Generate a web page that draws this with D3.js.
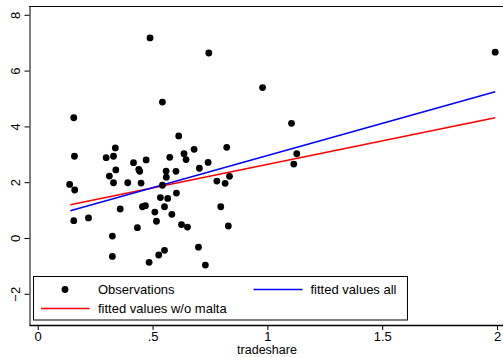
<!DOCTYPE html>
<html>
<head>
<meta charset="utf-8">
<script src="https://cdn.jsdelivr.net/npm/d3@7"></script>
<style>
    body { margin: 0; background: #fff; }
    svg { display: block; font-family: "Liberation Sans", Arial, sans-serif; }
</style>
</head>
<body>
<svg id="chart" width="503" height="357"></svg>
<script>
// observations
const tradeshare = [0.979, 0.543, 0.157, 0.614, 0.338, 0.823, 0.298, 0.330, 0.160, 0.472,
    0.575, 0.637, 0.681, 0.646, 0.417, 0.742, 0.440, 0.444, 0.340, 0.559,
    0.602, 0.704, 0.560, 0.312, 0.139, 0.161, 0.330, 0.392, 0.450, 0.543,
    0.780, 0.816, 0.835, 0.604, 0.534, 0.566, 0.359, 0.456, 0.469, 0.552,
    0.797, 0.510, 0.584, 0.157, 0.221, 0.517, 0.626, 0.652, 0.830, 0.434,
    0.325, 0.700, 0.552, 0.527, 0.325, 0.485, 0.730, 0.489, 0.745, 1.992,
    1.105, 1.128, 1.115];
const growth = [5.39, 4.87, 4.31, 3.66, 3.23, 3.25, 2.88, 2.93, 2.93, 2.80,
    2.89, 3.02, 3.18, 2.81, 2.70, 2.71, 2.46, 2.39, 2.44, 2.40,
    2.39, 2.50, 2.18, 2.22, 1.92, 1.72, 1.98, 1.98, 1.97, 1.89,
    2.04, 1.96, 2.21, 1.61, 1.45, 1.42, 1.04, 1.12, 1.16, 1.12,
    1.12, 0.93, 0.85, 0.62, 0.72, 0.60, 0.48, 0.39, 0.43, 0.37,
    0.07, -0.33, -0.44, -0.61, -0.66, -0.87, -0.97, 7.17, 6.63, 6.66,
    4.11, 3.02, 2.65];

// fitted line end points [x, y]
const fitAll = [[0.142, 0.98], [1.992, 5.24]];
const fitNoMalta = [[0.142, 1.19], [1.992, 4.31]];

const xTicks = [0, 0.5, 1, 1.5, 2];
const xTickLabels = ["0", ".5", "1", "1.5", "2"];
const yTicks = [-2, 0, 2, 4, 6, 8];

window.onload = function(e){
    drawChart();
};

function drawChart(){
    const svg = d3.select("#chart");
    const left = 29, right = 503, top = 6, bottom = 325;

    let x = d3.scaleLinear().domain([-0.038, 2.026]).range([left, right]);
    let y = d3.scaleLinear().domain([-3.118, 8.315]).range([bottom, top]);

    //frame line on top
    svg.append("line")
        .attr("x1", left).attr("x2", right)
        .attr("y1", top + 0.5).attr("y2", top + 0.5)
        .attr("stroke", "#000");

    //x axis
    let xAxis = d3.axisBottom(x)
        .tickValues(xTicks)
        .tickFormat((d, i) => xTickLabels[i])
        .tickSize(5)
        .tickSizeOuter(0);
    let gx = svg.append("g")
        .attr("transform", `translate(0, ${bottom})`)
        .call(xAxis);
    gx.select(".domain").attr("stroke", "#000").attr("stroke-width", 1.3);
    gx.selectAll(".tick line").attr("stroke", "#000");
    gx.selectAll(".tick text")
        .attr("y", 15.5)
        .attr("dy", 0)
        .attr("font-size", 13)
        .attr("font-family", "Liberation Sans, Arial, sans-serif")
        .attr("fill", "#000");

    //y axis
    let yAxis = d3.axisLeft(y)
        .tickValues(yTicks)
        .tickSize(5)
        .tickSizeOuter(0);
    let gy = svg.append("g")
        .attr("transform", `translate(${left + 0.5}, 0)`)
        .call(yAxis);
    gy.select(".domain").attr("stroke", "#000");
    gy.selectAll(".tick line").attr("stroke", "#000");
    gy.selectAll(".tick text")
        .attr("x", 0).attr("y", 0).attr("dy", 0)
        .attr("transform", "translate(-10, 0) rotate(-90)")
        .attr("text-anchor", "middle")
        .attr("font-size", 13)
        .attr("font-family", "Liberation Sans, Arial, sans-serif")
        .attr("fill", "#000");

    //fitted lines
    let line = d3.line().x(d => x(d[0])).y(d => y(d[1]));
    svg.append("path")
        .datum(fitNoMalta)
        .attr("d", line)
        .attr("fill", "none")
        .attr("stroke", "#ff0000")
        .attr("stroke-width", 1.5);
    svg.append("path")
        .datum(fitAll)
        .attr("d", line)
        .attr("fill", "none")
        .attr("stroke", "#0000ff")
        .attr("stroke-width", 1.5);

    //observations
    svg.append("g")
        .selectAll("circle")
        .data(d3.range(tradeshare.length))
        .enter().append("circle")
            .attr("cx", i => x(tradeshare[i]))
            .attr("cy", i => y(growth[i]))
            .attr("r", 3.4)
            .attr("fill", "#000");

    //legend
    let legend = svg.append("g");
    legend.append("rect")
        .attr("x", 33.5).attr("y", 276.5)
        .attr("width", 374).attr("height", 43.5)
        .attr("fill", "#fff")
        .attr("stroke", "#000");
    legend.append("circle")
        .attr("cx", 65).attr("cy", 289.5)
        .attr("r", 3.4)
        .attr("fill", "#000");
    legend.append("line")
        .attr("x1", 41).attr("x2", 89.5)
        .attr("y1", 308.5).attr("y2", 308.5)
        .attr("stroke", "#ff0000").attr("stroke-width", 1.5);
    legend.append("line")
        .attr("x1", 253.5).attr("x2", 302.5)
        .attr("y1", 289.5).attr("y2", 289.5)
        .attr("stroke", "#0000ff").attr("stroke-width", 1.5);
    let labels = [
        {text: "Observations", x: 98, y: 294},
        {text: "fitted values w/o malta", x: 98, y: 313},
        {text: "fitted values all", x: 310.5, y: 294}
    ];
    legend.selectAll("text")
        .data(labels)
        .enter().append("text")
            .attr("x", d => d.x)
            .attr("y", d => d.y)
            .attr("font-size", 13)
            .attr("fill", "#000")
            .text(d => d.text);

    //axis title
    svg.append("text")
        .attr("x", 267)
        .attr("y", 354)
        .attr("text-anchor", "middle")
        .attr("font-size", 12.5)
        .attr("fill", "#000")
        .text("tradeshare");
}
</script>
</body>
</html>
